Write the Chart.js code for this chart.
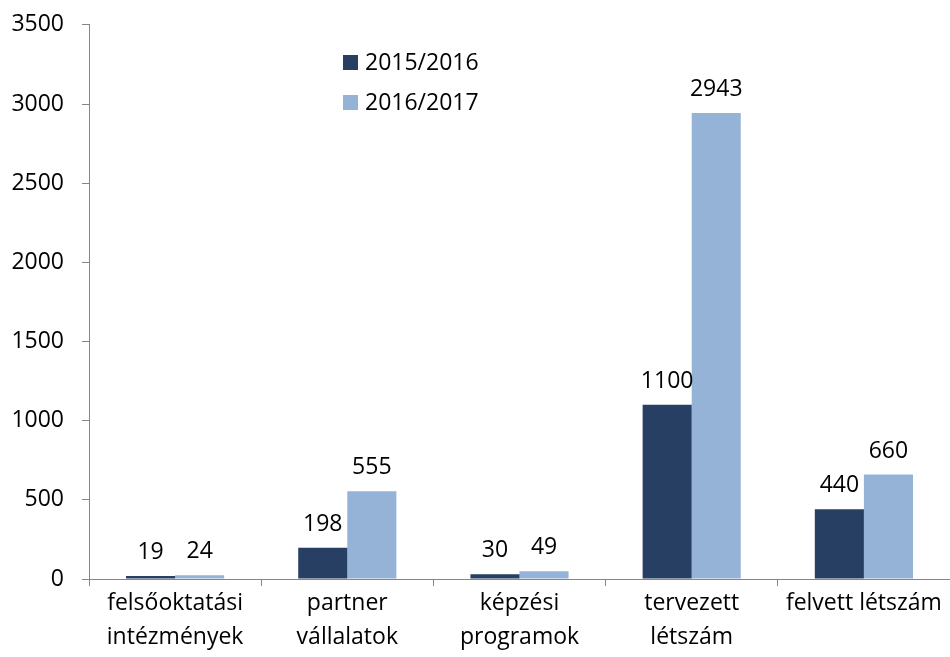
<!DOCTYPE html>
<html>
<head>
<meta charset="utf-8">
<script src="https://cdn.jsdelivr.net/npm/chart.js@4/dist/chart.umd.min.js"></script>
<style>
  html, body { margin: 0; padding: 0; background: #fff; }
  #wrap { width: 950px; height: 657px; }
</style>
</head>
<body>
<div id="wrap"><canvas id="chart" width="950" height="657"></canvas></div>
<script>
// ===== data =====
const categories = [
  ['felsőoktatási', 'intézmények'],
  ['partner', 'vállalatok'],
  ['képzési', 'programok'],
  ['tervezett', 'létszám'],
  'felvett létszám'
];
const seriesNames = ['2015/2016', '2016/2017'];
const values2015 = [19, 198, 30, 1100, 440];
const values2016 = [24, 555, 49, 2943, 660];
const colors = ['#263F62', '#95B3D7'];

const FONT = "'Open Sans', sans-serif";
const FONT_SIZE = 23;

// ===== value labels above bars =====
const valueLabels = {
  id: 'valueLabels',
  afterDatasetsDraw(chart) {
    const ctx = chart.ctx;
    ctx.save();
    ctx.font = FONT_SIZE + 'px ' + FONT;
    ctx.fillStyle = '#000';
    ctx.textAlign = 'center';
    ctx.textBaseline = 'alphabetic';
    chart.data.datasets.forEach((ds, i) => {
      chart.getDatasetMeta(i).data.forEach((bar, j) => {
        ctx.fillText(ds.data[j], bar.x, bar.y - 17);
      });
    });
    ctx.restore();
  }
};

// ===== legend inside plot =====
const innerLegend = {
  id: 'innerLegend',
  afterDraw(chart) {
    const ctx = chart.ctx;
    ctx.save();
    ctx.font = FONT_SIZE + 'px ' + FONT;
    ctx.textBaseline = 'middle';
    chart.data.datasets.forEach((ds, i) => {
      const y = 62 + i * 40;
      ctx.fillStyle = ds.backgroundColor;
      ctx.fillRect(343, y - 7, 15, 15);
      ctx.fillStyle = '#000';
      ctx.fillText(ds.label, 365, y + 1);
    });
    ctx.restore();
  }
};

new Chart(document.getElementById('chart'), {
  type: 'bar',
  data: {
    labels: categories,
    datasets: [
      { label: seriesNames[0], data: values2015, backgroundColor: colors[0] },
      { label: seriesNames[1], data: values2016, backgroundColor: colors[1] }
    ]
  },
  options: {
    responsive: false,
    animation: false,
    layout: { padding: { top: 0, left: 0, right: -6, bottom: 0 } },
    datasets: { bar: { categoryPercentage: 0.57, barPercentage: 1 } },
    plugins: {
      legend: { display: false },
      tooltip: { enabled: false }
    },
    scales: {
      x: {
        offset: true,
        afterFit: s => { s.height = 78; },
        grid: { display: true, drawOnChartArea: false, drawTicks: true, tickLength: 7, offset: true, color: '#868686' },
        border: { color: '#868686' },
        ticks: { color: '#000', font: { family: FONT, size: FONT_SIZE, lineHeight: 1.45 }, padding: 1, maxRotation: 0, autoSkip: false }
      },
      y: {
        min: 0,
        max: 3500,
        afterFit: s => { s.width = 89; },
        ticks: { stepSize: 500, color: '#000', font: { family: FONT, size: FONT_SIZE, lineHeight: 0.6 }, padding: 18,
                 callback: v => String(v) },
        grid: { display: true, drawOnChartArea: false, drawTicks: true, tickLength: 7, color: '#868686' },
        border: { color: '#868686' }
      }
    }
  },
  plugins: [valueLabels, innerLegend]
});
</script>
</body>
</html>
